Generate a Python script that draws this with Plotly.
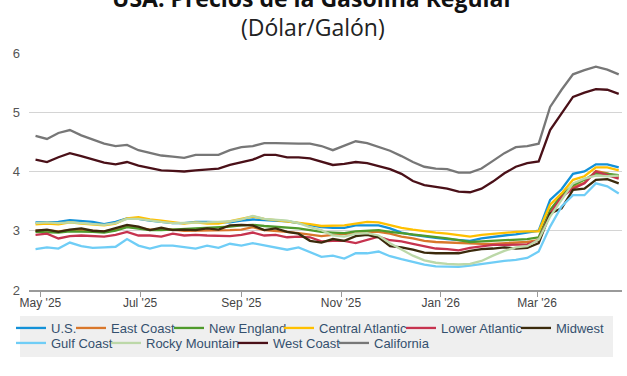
import plotly.graph_objects as go
import pandas as pd

# ---------------- data ----------------
dates = pd.date_range("2025-04-28", periods=52, freq="7D")

us = [3.14, 3.15, 3.15, 3.18, 3.17, 3.15, 3.11, 3.15, 3.21, 3.20, 3.17, 3.15, 3.13,
      3.13, 3.15, 3.15, 3.15, 3.14, 3.17, 3.19, 3.18, 3.17, 3.16, 3.13, 3.10, 3.06,
      3.05, 3.05, 3.09, 3.09, 3.09, 3.04, 2.97, 2.93, 2.90, 2.88, 2.86, 2.84,
      2.83, 2.87, 2.90, 2.92, 2.94, 2.97, 3.00, 3.52, 3.70, 3.96, 4.00, 4.12, 4.12, 4.07]
east_coast = [3.00, 3.01, 2.99, 3.01, 3.01, 3.00, 2.99, 3.02, 3.07, 3.05, 3.02, 3.02, 3.02,
              3.00, 3.00, 3.00, 3.00, 3.01, 3.02, 3.06, 3.01, 3.00, 2.98, 2.96, 2.93, 2.91,
              2.93, 2.94, 2.96, 2.98, 2.98, 2.95, 2.90, 2.87, 2.83, 2.81, 2.80, 2.79,
              2.78, 2.78, 2.78, 2.79, 2.80, 2.81, 2.84, 3.32, 3.57, 3.74, 3.81, 4.01, 3.97, 3.91]
new_england = [2.98, 2.98, 2.97, 2.99, 2.99, 2.98, 2.97, 3.00, 3.06, 3.04, 3.01, 3.01, 3.02,
               3.03, 3.04, 3.04, 3.05, 3.07, 3.09, 3.10, 3.08, 3.07, 3.05, 3.04, 3.01, 2.98,
               2.97, 2.96, 2.99, 3.00, 3.01, 2.98, 2.96, 2.93, 2.91, 2.89, 2.87, 2.84,
               2.81, 2.82, 2.83, 2.84, 2.85, 2.86, 2.89, 3.35, 3.60, 3.77, 3.86, 3.97, 3.96, 3.94]
central_atlantic = [3.11, 3.12, 3.11, 3.14, 3.12, 3.11, 3.09, 3.12, 3.21, 3.23, 3.19, 3.17, 3.15,
                    3.12, 3.14, 3.12, 3.12, 3.16, 3.19, 3.24, 3.20, 3.18, 3.16, 3.14, 3.11, 3.08,
                    3.08, 3.09, 3.12, 3.15, 3.14, 3.09, 3.05, 3.02, 2.99, 2.97, 2.95, 2.92,
                    2.90, 2.93, 2.95, 2.97, 2.98, 2.99, 2.99, 3.44, 3.63, 3.86, 3.92, 4.07, 4.07, 4.02]
lower_atlantic = [2.93, 2.95, 2.87, 2.91, 2.92, 2.91, 2.90, 2.93, 2.98, 2.92, 2.92, 2.90, 2.95,
                  2.92, 2.93, 2.92, 2.92, 2.91, 2.93, 2.97, 2.92, 2.93, 2.89, 2.90, 2.89, 2.82,
                  2.83, 2.83, 2.79, 2.84, 2.90, 2.84, 2.82, 2.78, 2.74, 2.70, 2.69, 2.67,
                  2.71, 2.74, 2.76, 2.76, 2.76, 2.77, 2.84, 3.29, 3.57, 3.71, 3.80, 4.00, 3.94, 3.88]
midwest = [3.00, 3.02, 2.98, 3.02, 3.04, 3.00, 2.99, 3.04, 3.10, 3.07, 3.01, 3.05, 3.01,
           3.02, 3.01, 3.04, 3.02, 3.09, 3.10, 3.09, 3.01, 3.04, 2.98, 2.95, 2.83, 2.80,
           2.86, 2.83, 2.91, 2.93, 2.89, 2.74, 2.72, 2.68, 2.63, 2.62, 2.62, 2.62,
           2.66, 2.69, 2.70, 2.72, 2.70, 2.71, 2.79, 3.29, 3.38, 3.69, 3.71, 3.86, 3.87, 3.80]
gulf_coast = [2.69, 2.72, 2.70, 2.80, 2.74, 2.71, 2.72, 2.73, 2.86, 2.75, 2.70, 2.75, 2.75,
              2.73, 2.70, 2.75, 2.71, 2.78, 2.75, 2.79, 2.75, 2.71, 2.68, 2.72, 2.64, 2.56,
              2.58, 2.53, 2.62, 2.62, 2.65, 2.57, 2.52, 2.47, 2.43, 2.40, 2.39, 2.39,
              2.41, 2.44, 2.46, 2.49, 2.51, 2.54, 2.65, 3.07, 3.41, 3.60, 3.60, 3.80, 3.75, 3.63]
rocky_mountain = [3.13, 3.14, 3.13, 3.14, 3.13, 3.12, 3.10, 3.13, 3.20, 3.20, 3.17, 3.15, 3.13,
                  3.13, 3.14, 3.14, 3.15, 3.16, 3.19, 3.25, 3.20, 3.18, 3.17, 3.13, 3.06, 3.01,
                  2.92, 2.90, 2.95, 2.96, 2.92, 2.79, 2.68, 2.58, 2.50, 2.46, 2.44, 2.43,
                  2.44, 2.49, 2.58, 2.66, 2.72, 2.74, 2.85, 3.24, 3.52, 3.80, 3.88, 3.93, 3.92, 3.93]
west_coast = [4.20, 4.16, 4.24, 4.31, 4.26, 4.21, 4.15, 4.12, 4.16, 4.10, 4.06, 4.02, 4.01,
              4.00, 4.02, 4.03, 4.05, 4.11, 4.16, 4.20, 4.28, 4.28, 4.24, 4.24, 4.22,
              4.17, 4.11, 4.13, 4.16, 4.14, 4.09, 4.04, 3.96, 3.84, 3.77, 3.74, 3.71, 3.66,
              3.65, 3.71, 3.83, 3.97, 4.08, 4.14, 4.17, 4.70, 4.98, 5.26, 5.33, 5.39, 5.38, 5.31]
california = [4.60, 4.55, 4.65, 4.70, 4.61, 4.54, 4.47, 4.43, 4.45, 4.36, 4.32, 4.27, 4.25,
              4.23, 4.28, 4.28, 4.28, 4.36, 4.41, 4.43, 4.48, 4.48, 4.47, 4.47, 4.47,
              4.43, 4.36, 4.43, 4.51, 4.48, 4.41, 4.35, 4.26, 4.16, 4.08, 4.05, 4.04, 3.98,
              3.98, 4.05, 4.18, 4.31, 4.41, 4.43, 4.47, 5.09, 5.38, 5.64, 5.71, 5.77, 5.72, 5.64]

series_names = ["U.S.", "East Coast", "New England", "Central Atlantic", "Lower Atlantic",
                "Midwest", "Gulf Coast", "Rocky Mountain", "West Coast", "California"]
series_values = [us, east_coast, new_england, central_atlantic, lower_atlantic,
                 midwest, gulf_coast, rocky_mountain, west_coast, california]
series_colors = ["#1391d8", "#d9772b", "#4f9a2c", "#ffc000", "#c6334f",
                 "#3b2a0c", "#6fcdf6", "#bcd8a8", "#4a1018", "#777777"]

tick_vals = ["2025-05-01", "2025-07-01", "2025-09-01", "2025-11-01", "2026-01-01", "2026-03-01"]
tick_text = ["May '25", "Jul '25", "Sep '25", "Nov '25", "Jan '26", "Mar '26"]

title_text = "USA: Precios de la Gasolina Regular"
subtitle_text = "(Dólar/Galón)"

# ---------------- layout geometry ----------------
W, H = 627, 376
L, R, T, B = 29, 5, 53, 86
PW, PH = W - L - R, H - T - B


def fx(px):
    return (px - L) / PW


def fy(py):
    return (H - B - py) / PH


# legend text start x (pixels) and row centre y (pixels)
legend_text_x = [50, 110, 208, 318, 440, 555, 50, 145, 272, 373]
legend_row_y = [328, 328, 328, 328, 328, 328, 343, 343, 343, 343]

fig = go.Figure()
legends = {}
for k, (name, vals, color) in enumerate(zip(series_names, series_values, series_colors)):
    lid = "legend" if k == 0 else f"legend{k + 1}"
    fig.add_trace(go.Scatter(
        x=dates, y=vals, mode="lines", name=name,
        line=dict(color=color, width=2.3),
        legend=lid,
    ))
    legends[lid] = dict(
        x=fx(legend_text_x[k] - 39), xanchor="left",
        y=fy(legend_row_y[k]), yanchor="middle",
        orientation="h", bgcolor="rgba(0,0,0,0)", borderwidth=0,
        font=dict(family="Liberation Sans, Arial, sans-serif", size=13, color="#34506e"),
    )

fig.update_layout(**legends)

fig.update_layout(
    width=W, height=H,
    margin=dict(l=L, r=R, t=T, b=B, autoexpand=False),
    paper_bgcolor="white", plot_bgcolor="white",
    showlegend=True,
    xaxis=dict(
        type="date",
        range=["2025-04-24", "2026-04-22"],
        tickvals=tick_vals, ticktext=tick_text,
        showgrid=False, zeroline=False,
        showline=True, linecolor="#9a9a9a", linewidth=2,
        ticks="outside", ticklen=5, tickcolor="#9a9a9a", tickwidth=1,
        ticklabelstandoff=-4,
        tickfont=dict(family="Liberation Sans, Arial, sans-serif", size=12, color="#444444"),
        fixedrange=True,
    ),
    yaxis=dict(
        range=[2, 6], tickvals=[2, 3, 4, 5, 6],
        showgrid=True, gridcolor="#d4d4d4", gridwidth=1,
        zeroline=False, showline=False, ticks="",
        ticklabelstandoff=8,
        tickfont=dict(family="Liberation Sans, Arial, sans-serif", size=13, color="#555555"),
        fixedrange=True,
    ),
    shapes=[dict(
        type="rect", xref="paper", yref="paper", layer="below",
        x0=fx(20), x1=fx(613), y0=fy(316), y1=fy(357),
        fillcolor="#efefef", line=dict(width=0),
    )],
    annotations=[
        dict(text="<b>" + title_text + "</b>", xref="paper", yref="paper",
             x=fx(313), y=fy(-2), xanchor="center", yanchor="middle", showarrow=False,
             font=dict(family="Open Sans, sans-serif", size=23, color="#111111")),
        dict(text=subtitle_text, xref="paper", yref="paper",
             x=fx(313), y=fy(27), xanchor="center", yanchor="middle", showarrow=False,
             font=dict(family="Open Sans, sans-serif", size=23, color="#222222")),
    ],
)

fig.write_html("out.html",
               config={"displayModeBar": False},
               post_script="document.body.style.margin='0';document.body.style.padding='0';")
